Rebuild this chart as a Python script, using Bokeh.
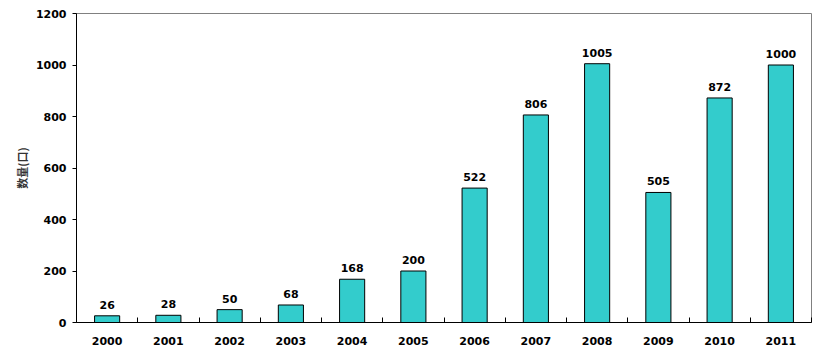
from bokeh.plotting import figure
from bokeh.models import ColumnDataSource, FixedTicker, Range1d
from bokeh.core.properties import value
from bokeh.embed import file_html
from bokeh.resources import INLINE

years = ["2000", "2001", "2002", "2003", "2004", "2005", "2006", "2007", "2008", "2009", "2010", "2011"]
counts = [26, 28, 50, 68, 168, 200, 522, 806, 1005, 505, 872, 1000]
y_ticks = [0, 200, 400, 600, 800, 1000, 1200]
y_title = "数量(口)"

xs = list(range(len(years)))
src = ColumnDataSource(dict(x=xs, top=counts, label=[str(c) for c in counts]))

p = figure(width=814, height=355, output_backend="svg", toolbar_location=None,
           x_range=Range1d(-0.5, len(years) - 0.5), y_range=Range1d(0, 1200),
           min_border_left=76, min_border_top=13, min_border_right=3, min_border_bottom=33)

p.vbar(x="x", top="top", width=0.41, source=src, fill_color="#33CCCC",
       line_color="black", line_width=1)
p.text(x="x", y="top", text="label", source=src, text_align="center",
       text_baseline="bottom", y_offset=-7, text_font=value("DejaVu Sans"),
       text_font_style="bold", text_font_size="11px", text_color="black")

p.xgrid.visible = False
p.ygrid.visible = False
p.outline_line_color = "#808080"
p.outline_line_width = 1
p.background_fill_color = "white"
p.border_fill_color = "white"

xa = p.xaxis[0]
xa.ticker = FixedTicker(ticks=xs, minor_ticks=[i - 0.5 for i in range(len(years) + 1)])
xa.major_label_overrides = {i: y for i, y in enumerate(years)}
xa.major_tick_in = 0
xa.major_tick_out = 0
xa.minor_tick_in = 5
xa.minor_tick_out = 0
xa.minor_tick_line_color = "black"
xa.axis_line_color = "black"
xa.major_label_standoff = 14
xa.major_label_text_font = "DejaVu Sans"
xa.major_label_text_font_style = "bold"
xa.major_label_text_font_size = "11px"
xa.major_label_text_color = "black"

ya = p.yaxis[0]
ya.ticker = FixedTicker(ticks=y_ticks, minor_ticks=[])
ya.major_tick_in = 0
ya.major_tick_out = 4
ya.major_tick_line_color = "black"
ya.axis_line_color = "black"
ya.major_label_standoff = 6
ya.major_label_text_font = "DejaVu Sans"
ya.major_label_text_font_style = "bold"
ya.major_label_text_font_size = "11px"
ya.major_label_text_color = "black"
ya.axis_label = y_title
ya.axis_label_text_font = "Noto Sans CJK SC"
ya.axis_label_text_font_style = "bold"
ya.axis_label_text_font_size = "11px"
ya.axis_label_text_color = "#333333"
ya.axis_label_standoff = 3

open("out.html", "w").write(file_html(p, INLINE))
